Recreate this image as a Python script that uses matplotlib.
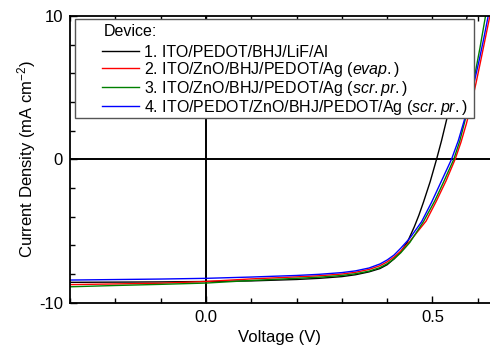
import matplotlib
matplotlib.use("Agg")
import matplotlib.pyplot as plt
from matplotlib.patches import Rectangle
from matplotlib.ticker import MultipleLocator, FormatStrFormatter

plt.rcParams['font.family'] = ['Liberation Sans', 'DejaVu Sans']
plt.rcParams['mathtext.fontset'] = 'custom'
plt.rcParams['mathtext.rm'] = 'Liberation Sans'
plt.rcParams['mathtext.it'] = 'Liberation Sans:italic'
plt.rcParams['axes.unicode_minus'] = False

# J-V curves (V in volts, J in mA cm^-2)
v1 = [-0.30, -0.10, 0.00, 0.10, 0.20, 0.25, 0.30, 0.33, 0.36, 0.384, 0.40, 0.415, 0.43, 0.445, 0.46, 0.47, 0.48, 0.495, 0.509, 0.52, 0.533, 0.55, 0.57, 0.58]
j1 = [-8.58, -8.55, -8.52, -8.48, -8.38, -8.30, -8.18, -8.05, -7.85, -7.62, -7.35, -6.95, -6.45, -5.75, -4.70, -3.90, -3.00, -1.55, 0.00, 1.30, 3.00, 5.50, 9.00, 10.5]

v2 = [-0.30, -0.20, -0.10, 0.00, 0.10, 0.20, 0.25, 0.30, 0.33, 0.36, 0.384, 0.40, 0.415, 0.43, 0.45, 0.486, 0.508, 0.53, 0.55, 0.563, 0.575, 0.586, 0.596, 0.606, 0.617, 0.628, 0.635]
j2 = [-8.74, -8.69, -8.64, -8.52, -8.34, -8.20, -8.12, -8.00, -7.88, -7.68, -7.42, -7.15, -6.82, -6.40, -5.72, -4.30, -2.95, -1.50, 0.00, 1.20, 2.50, 3.90, 5.30, 6.80, 8.50, 10.2, 11.3]

v3 = [-0.30, -0.20, -0.10, 0.00, 0.10, 0.20, 0.25, 0.30, 0.33, 0.36, 0.384, 0.40, 0.415, 0.43, 0.45, 0.48, 0.505, 0.525, 0.547, 0.56, 0.571, 0.582, 0.593, 0.605, 0.616, 0.625]
j3 = [-8.89, -8.80, -8.72, -8.63, -8.45, -8.30, -8.22, -8.10, -7.98, -7.80, -7.55, -7.28, -6.95, -6.52, -5.80, -4.35, -2.90, -1.55, 0.00, 1.25, 2.60, 4.10, 5.80, 7.80, 9.80, 11.5]

v4 = [-0.30, -0.10, 0.00, 0.10, 0.20, 0.25, 0.30, 0.33, 0.36, 0.384, 0.40, 0.415, 0.43, 0.45, 0.476, 0.498, 0.52, 0.542, 0.557, 0.57, 0.582, 0.593, 0.603, 0.613, 0.623, 0.632]
j4 = [-8.42, -8.35, -8.30, -8.21, -8.10, -8.02, -7.90, -7.78, -7.58, -7.30, -7.02, -6.68, -6.20, -5.50, -4.35, -3.00, -1.50, 0.00, 1.30, 2.70, 4.10, 5.50, 6.90, 8.40, 10.0, 11.4]

labels = ['1. ITO/PEDOT/BHJ/LiF/Al',
          r'2. ITO/ZnO/BHJ/PEDOT/Ag $\mathit{(evap.)}$',
          r'3. ITO/ZnO/BHJ/PEDOT/Ag $\mathit{(scr.pr.)}$',
          r'4. ITO/PEDOT/ZnO/BHJ/PEDOT/Ag $\mathit{(scr.pr.)}$']
colors = ['black', 'red', 'green', 'blue']

W, H = 490, 347
fig = plt.figure(figsize=(W/100, H/100), dpi=100)
ax = fig.add_axes([70/W, 1-302.7/H, 420/W, (302.7-16)/H])

ax.axhline(0, color='black', lw=1.4, zorder=1)
ax.axvline(0, color='black', lw=1.4, zorder=1)

for v, j, c, lab in zip([v1, v2, v3, v4], [j1, j2, j3, j4], colors, labels):
    ax.plot(v, j, color=c, lw=1.0, label=lab, zorder=2)

ax.set_xlim(-0.3, 0.627)
ax.set_ylim(-10, 10)
ax.xaxis.set_major_locator(MultipleLocator(0.5))
ax.xaxis.set_minor_locator(MultipleLocator(0.1))
ax.xaxis.set_major_formatter(FormatStrFormatter('%.1f'))
ax.yaxis.set_major_locator(MultipleLocator(10))
ax.yaxis.set_minor_locator(MultipleLocator(2))
ax.tick_params(which='both', direction='in', top=True, right=False, labelsize=12, width=1)
ax.tick_params(which='major', length=5)
ax.tick_params(which='minor', length=3.5)
ax.tick_params(axis='y', pad=5)
ax.tick_params(axis='x', pad=5)
for s in ['left', 'bottom', 'top']:
    ax.spines[s].set_linewidth(1.3)
ax.spines['right'].set_visible(False)

ax.set_xlabel('Voltage (V)', fontsize=12, labelpad=4)
ax.set_ylabel(r'Current Density (mA cm$^{-2}$)', fontsize=12, labelpad=1)

# legend box drawn separately so the frame sits where it does in the original
frame = Rectangle((75/W, 1-118/H), (474-75)/W, (118-19)/H, transform=fig.transFigure,
                  facecolor='white', edgecolor='#555555', lw=1.0, zorder=4, clip_on=False)
ax.add_artist(frame)
fig.text(104/W, 1-32/H, 'Device:', fontsize=11.5, va='center', ha='left')

leg = ax.legend(loc='upper left', bbox_to_anchor=(102/W, 1-45/H),
                bbox_transform=fig.transFigure, fontsize=11.5,
                frameon=False, handlelength=2.3, handletextpad=0.3,
                labelspacing=0.0, borderpad=0, borderaxespad=0)
leg.set_zorder(5)

fig.savefig('out.png', dpi=100)
